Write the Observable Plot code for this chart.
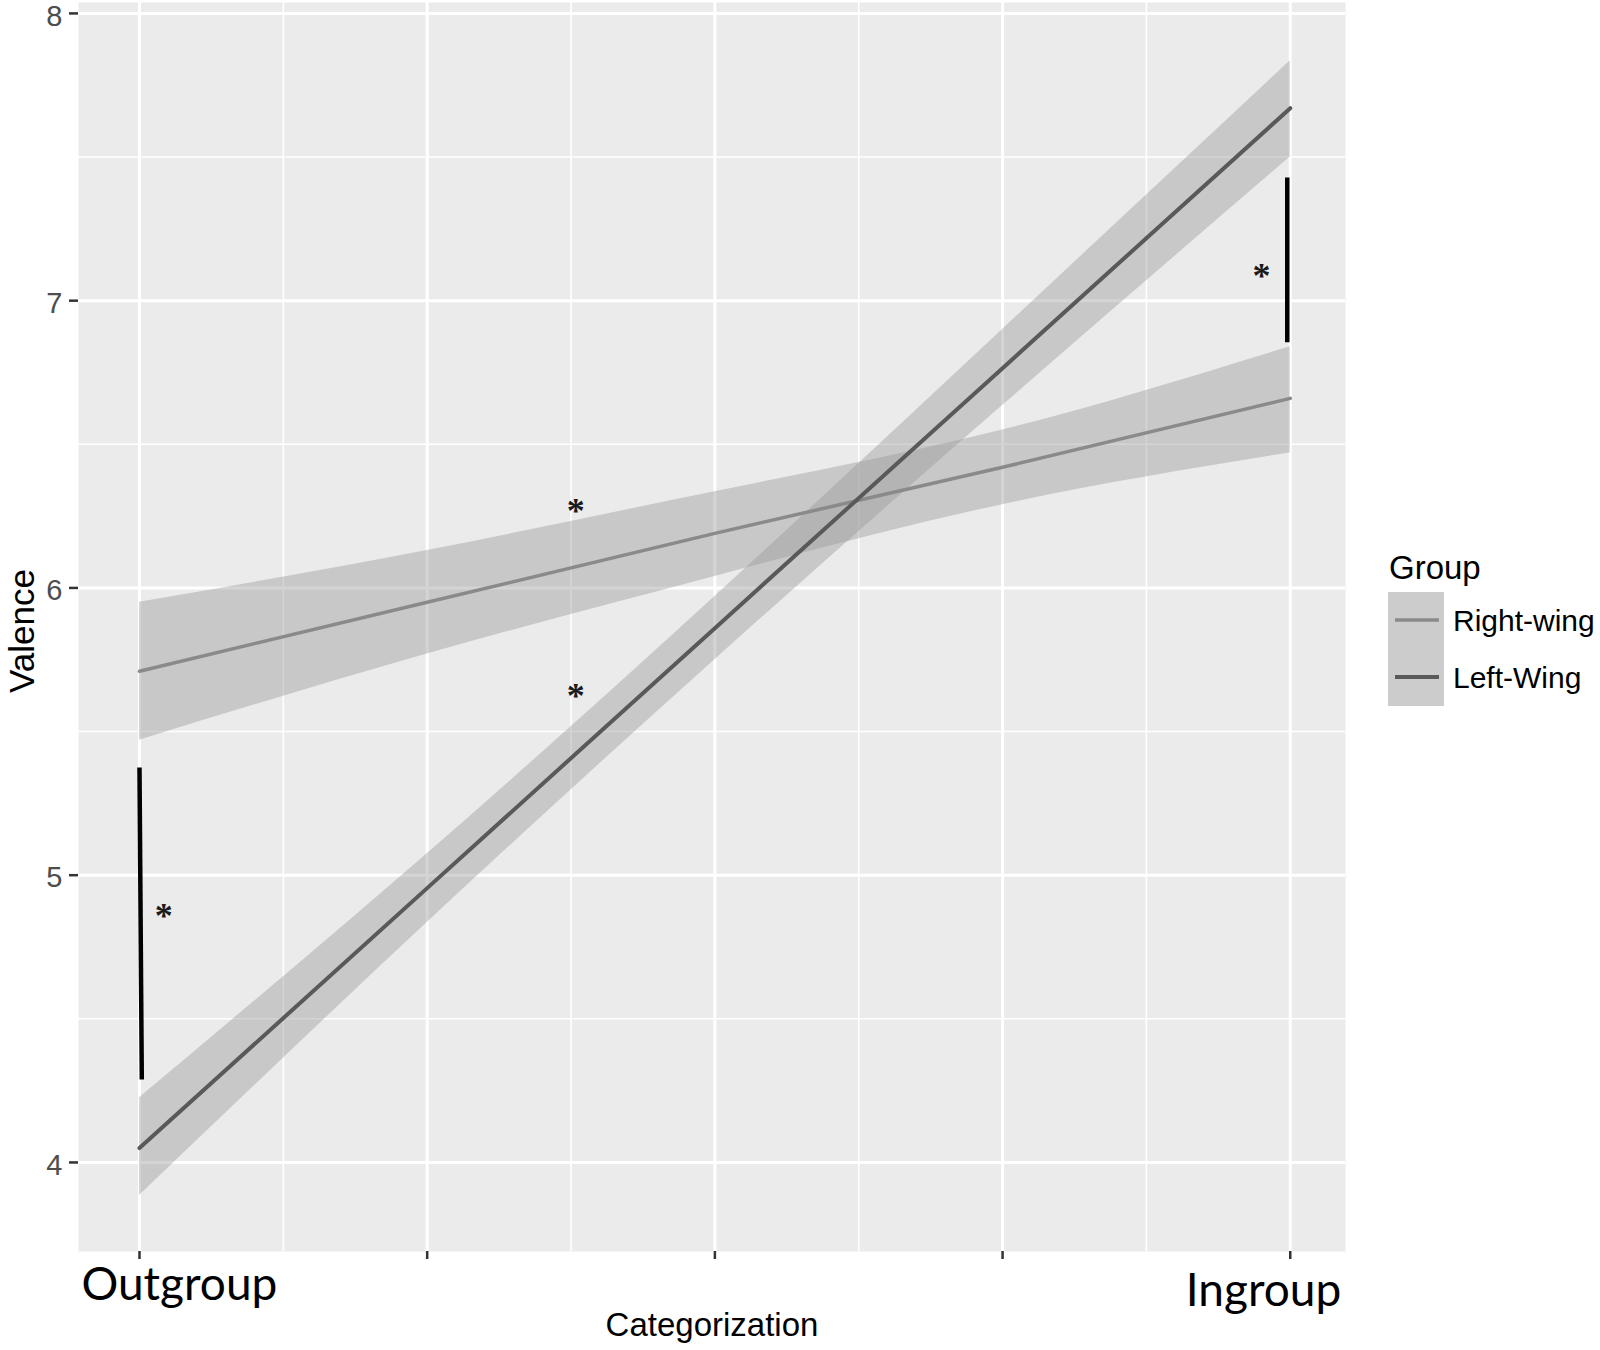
<!DOCTYPE html>
<html>
<head>
<meta charset="utf-8">
<script src="https://cdn.jsdelivr.net/npm/d3@7"></script>
<script src="https://cdn.jsdelivr.net/npm/@observablehq/plot@0.6"></script>
<style>
  html, body { margin: 0; padding: 0; background: #ffffff; }
  #chart svg { display: block; }
</style>
</head>
<body>
<div id="chart"></div>
<script>
// ---- Data ----
const groups = ["Right-wing", "Left-Wing"];
const groupColors = ["#8a8a8a", "#595959"];
const xs = [0, 0.25, 0.5, 0.75, 1];
const rightFit  = [5.71, 5.95, 6.19, 6.42, 6.66];
const rightLow  = [5.47, 5.77, 6.04, 6.29, 6.47];
const rightHigh = [5.95, 6.13, 6.335, 6.55, 6.84];
const leftFit   = [4.05, 4.955, 5.86, 6.765, 7.67];
const leftLow   = [3.885, 4.835, 5.75, 6.635, 7.50];
const leftHigh  = [4.225, 5.075, 5.97, 6.90, 7.835];

// significance bars and asterisks
const barX1 = [0, 0.9974];
const barX2 = [0.002, 0.9974];
const barY1 = [5.375, 7.429];
const barY2 = [4.289, 6.855];
const starX = [0.021, 0.379, 0.379, 0.975];
const starY = [4.888, 6.298, 5.654, 7.116];

// axes
const yTicks = [4, 5, 6, 7, 8];
const yMinor = [4.5, 5.5, 6.5, 7.5];
const xTicks = [0, 0.25, 0.5, 0.75, 1];
const xMinor = [0.125, 0.375, 0.625, 0.875];
const xEndLabels = ["Outgroup", "Ingroup"];
const xEndValues = [0, 1];
const xTitle = "Categorization";
const yTitle = "Valence";
const legendTitle = "Group";

// ---- Build tables ----
const bands = [];
const fits = [];
xs.forEach((x, i) => {
  bands.push({group: groups[0], x, lo: rightLow[i], hi: rightHigh[i]});
  bands.push({group: groups[1], x, lo: leftLow[i], hi: leftHigh[i]});
  fits.push({group: groups[0], x, y: rightFit[i]});
  fits.push({group: groups[1], x, y: leftFit[i]});
});
const bars = barX1.map((d, i) => ({x1: d, x2: barX2[i], y1: barY1[i], y2: barY2[i]}));
const stars = starX.map((d, i) => ({x: d, y: starY[i]}));
const endLabels = xEndValues.map((v, i) => ({x: v, t: xEndLabels[i]}));

const font = "'Liberation Sans', Arial, sans-serif";
const endFont = "Lato, 'Open Sans', sans-serif";

const chart = Plot.plot({
  width: 1600,
  height: 1350,
  marginLeft: 78,
  marginRight: 255,
  marginTop: 2,
  marginBottom: 99,
  style: {fontFamily: font, background: "#ffffff"},
  x: {domain: [-0.053, 1.048], label: null},
  y: {domain: [3.69, 8.038], label: null},
  marks: [
    Plot.frame({fill: "#ebebeb", stroke: null}),
    Plot.gridX(xMinor, {stroke: "#ffffff", strokeOpacity: 1, strokeWidth: 1.6}),
    Plot.gridY(yMinor, {stroke: "#ffffff", strokeOpacity: 1, strokeWidth: 1.6}),
    Plot.gridX(xTicks, {stroke: "#ffffff", strokeOpacity: 1, strokeWidth: 3}),
    Plot.gridY(yTicks, {stroke: "#ffffff", strokeOpacity: 1, strokeWidth: 3}),
    Plot.areaY(bands, {x: "x", y1: "lo", y2: "hi", z: "group", fill: "#999999", fillOpacity: 0.42, curve: "natural"}),
    Plot.line(fits.filter(d => d.group === groups[0]), {x: "x", y: "y", stroke: groupColors[0], strokeWidth: 3.5}),
    Plot.line(fits.filter(d => d.group === groups[1]), {x: "x", y: "y", stroke: groupColors[1], strokeWidth: 4}),
    Plot.link(bars, {x1: "x1", y1: "y1", x2: "x2", y2: "y2", stroke: "#000000", strokeWidth: 4.5}),
    Plot.text(stars, {x: "x", y: "y", text: () => "*", fontSize: 36, fontWeight: "bold", fontFamily: "'Liberation Serif', 'DejaVu Serif', serif", fill: "#1a1a1a", dy: 9}),
    // y axis: tick marks, then labels
    Plot.axisY(yTicks, {tickSize: 9, stroke: "#333333", strokeWidth: 2.5, label: null, tickFormat: () => ""}),
    Plot.text(yTicks, {y: d => d, text: d => String(d), frameAnchor: "left", textAnchor: "end", dx: -16, dy: 3, fontSize: 29, fill: "#4d4d4d"}),
    // x axis: tick marks only
    Plot.axisX(xTicks, {tickSize: 8, strokeWidth: 2.5, stroke: "#333333", tickFormat: () => "", label: null}),
    Plot.text(endLabels.slice(0, 1), {x: "x", text: "t", frameAnchor: "bottom", textAnchor: "start", lineAnchor: "bottom", dx: -58, dy: 48, fontSize: 46, fontFamily: endFont, fill: "#000000"}),
    Plot.text(endLabels.slice(1), {x: "x", text: "t", frameAnchor: "bottom", textAnchor: "end", lineAnchor: "bottom", dx: 51, dy: 54, fontSize: 46, fontFamily: endFont, fill: "#000000"}),
    Plot.text([xTitle], {frameAnchor: "bottom", textAnchor: "middle", lineAnchor: "bottom", dy: 84, fontSize: 33, fill: "#000000"}),
    Plot.text([yTitle], {frameAnchor: "left", textAnchor: "middle", lineAnchor: "bottom", rotate: -90, dx: -45, dy: 4, fontSize: 35, fill: "#000000"})
  ]
});

document.getElementById("chart").appendChild(chart);

// ---- Legend (drawn into the same SVG, to the right of the panel) ----
const svg = d3.select(chart);
const lg = svg.append("g").attr("class", "legend").attr("font-family", font).attr("text-anchor", "start");
lg.append("text").attr("x", 1389).attr("y", 579).attr("font-size", 33).attr("fill", "#000").attr("text-anchor", "start").text(legendTitle);
groups.forEach((g, i) => {
  const y0 = 592 + i * 57;
  lg.append("rect").attr("x", 1388).attr("y", y0).attr("width", 56).attr("height", 57).attr("fill", "#f2f2f2");
  lg.append("rect").attr("x", 1388).attr("y", y0).attr("width", 56).attr("height", 57).attr("fill", "#999999").attr("fill-opacity", 0.42);
  lg.append("line").attr("x1", 1395).attr("x2", 1439).attr("y1", y0 + 28).attr("y2", y0 + 28)
    .attr("stroke", groupColors[i]).attr("stroke-width", i === 0 ? 3.5 : 4);
  lg.append("text").attr("x", 1453).attr("y", y0 + 28).attr("dy", "0.36em").attr("font-size", 30)
    .attr("fill", "#000").attr("text-anchor", "start").text(g);
});
</script>
</body>
</html>
